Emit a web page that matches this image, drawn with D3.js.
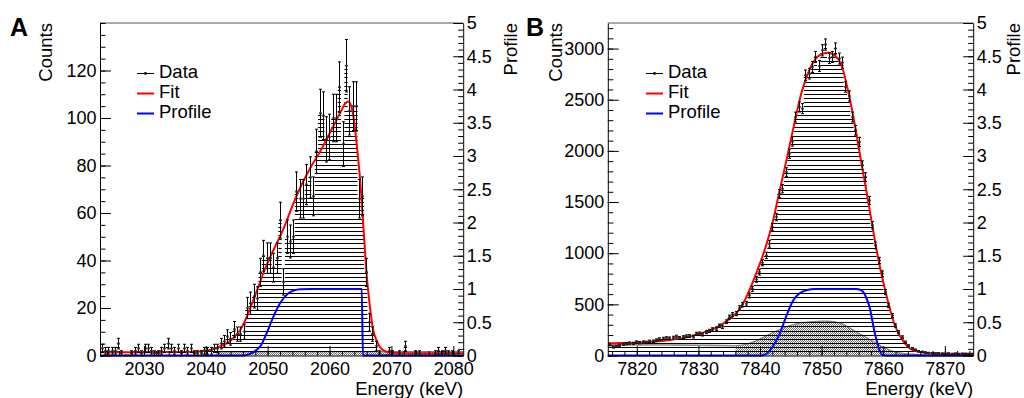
<!DOCTYPE html>
<html><head><meta charset="utf-8">
<script src="https://cdn.jsdelivr.net/npm/d3@7"></script>
<style>
html,body{margin:0;padding:0;background:#fff;}
svg{display:block;}
text{font-family:"Liberation Sans",Arial,Helvetica,sans-serif;fill:#000;}
</style></head><body>
<svg id="c" width="1024" height="398"></svg>
<script>
// ---------------- Panel A data ----------------
const rangeA = [2022.9, 2081.6];
const countsA = [3,2,2,2,2,5,1,0,0,1, 2,3,1,3,3,2,1,1,2,3, 5,3,2,3,1,3,2,3,1,1,
  1,2,2,2,3,3,5,6,8,7, 11,9,9,10,20,22,25,24,35,42, 41,41,37,41,57,31,50,48,50,69,
  66,66,72,75,67,86,102,101,91,92, 100,100,113,89,122,103,105,105,66,67,
  35,14,9,4,1,0,0,2,1,0, 1,0,4,0,0,1,1,0,0,0, 0,1,2,1,2,1,1,0,1,0];
const fitA_E = [2022.9,2030,2036,2039,2040.5,2041.5,2042.5,2043.5,2044.5,2045.5,2046.5,2047.5,2048.5,2049.5,2050.5,2051.5,2052.5,2054,2055.5,2057,2058.5,2060,2061,2061.8,2062.5,2063,2063.5,2064,2064.5,2065,2065.5,2066,2066.5,2067,2067.7,2068.5,2069.5,2071,2075,2081.6];
const fitA_C = [1.4,1.4,1.5,1.7,2.2,3.0,4.0,5.3,7.5,10.5,15.5,22,29,36,42,47.5,53,63,72,79.5,86,93.5,98.5,102.6,106,107,105,98,86,72,53,34,21,11.5,5.6,2.5,1.4,1.1,1.0,1.0];
const profA_E = [2022.9,2046,2047,2048,2048.9,2049.9,2051,2052.1,2053.4,2054.3,2055.3,2057,2065.2,2065.4,2081.6];
const profA_P = [0,0,0.02,0.07,0.15,0.35,0.6,0.8,0.94,0.98,0.995,1,1,0,0];
const bkgA_E = [2041.5,2042.6,2060,2081.6];
const bkgA_C = [0,1.5,1.6,1.6];

// ---------------- Panel B data ----------------
const rangeB = [7815.3, 7874.6];
const countsB = [108,82,90,100,110,115,121,118,131,125, 131,128,138,140,150,160,165,170,168,175,
  185,172,180,188,190,185,212,215,205,228, 240,255,262,290,280,330,375,400,410,465,
  496,506,587,652,743,815,907,978,1092,1255, 1353,1581,1630,1793,1972,2093,2331,2429,2413,2739,
  2755,2820,2918,2830,2983,3039,2909,2918,3000,2902, 2863,2625,2537,2331,2201,2087,1859,1745,1516,1272,
  1076,929,799,620,489,391,293,228,179,130, 95,70,55,42,35,30,25,22,20,22,
  18,16,20,15,18,14,17,16,13,15];
const fitB_E = [7815.3,7818,7821,7824,7827,7829,7831,7833,7835,7836.76,7838,7839.46,7840.8,7842,7843,7844.3,7845.4,7846.7,7848.4,7849.8,7851,7852.2,7853.25,7854.33,7855.41,7856.33,7857.3,7858.22,7859.19,7860.38,7861.08,7861.9,7862.98,7864.06,7865.95,7868.6,7874.6];
const fitB_C = [120,122,128,142,165,192,228,278,355,457,600,815,1040,1290,1560,1910,2220,2560,2840,2940,2960,2930,2837,2576,2250,1924,1598,1272,946,620,457,293,163,81,33,20,16];
const profB_E = [7815.3,7840,7841,7841.6,7842.3,7843.2,7844.3,7845.4,7846.5,7847.5,7849,7855.7,7856.6,7857.2,7857.8,7858.6,7859.4,7859.9,7860.5,7874.6];
const profB_P = [0,0,0.02,0.075,0.17,0.33,0.6,0.83,0.94,0.98,1,1,0.97,0.88,0.72,0.35,0.08,0.01,0,0];
// gray component: flat shoulder line, then filled bump
const bkgLineB_E = [7815.3,7825,7830,7836];
const bkgLineB_C = [105,102,100,96];
const bkgB_E = [7836,7838,7839.5,7842.2,7844.9,7847.6,7850.8,7853,7855.7,7858.4,7860,7862.2,7864,7868,7874.6];
const bkgB_C = [96,112,147,228,293,326,336,316,228,137,81,30,15,5,2];

// ---------------- Tick labels ----------------
const xTicksA = [2030,2040,2050,2060,2070,2080];
const yTicksA = [0,20,40,60,80,100,120];
const xTicksB = [7820,7830,7840,7850,7860,7870];
const yTicksB = [0,500,1000,1500,2000,2500,3000];
const profTicks = [0,0.5,1,1.5,2,2.5,3,3.5,4,4.5,5];
const profLabels = ["0","0.5","1","1.5","2","2.5","3","3.5","4","4.5","5"];
const legendLabels = ["Data","Fit","Profile"];

const FONT = '"Liberation Sans",Arial,Helvetica,sans-serif';
const HATCH = 4.15;
const svg = d3.select('#c');
const defs = svg.append('defs');
const pat = defs.append('pattern').attr('id','dots').attr('patternUnits','userSpaceOnUse')
  .attr('width',2).attr('height',2);
pat.append('rect').attr('x',0).attr('y',0).attr('width',1).attr('height',1).attr('fill','#707070');
pat.append('rect').attr('x',1).attr('y',1).attr('width',1).attr('height',1).attr('fill','#707070');

function zip(a,b){ return a.map((v,i)=>[v,b[i]]); }

function panel(o){
  const g = svg.append('g');
  const x = d3.scaleLinear().domain(o.range).range([o.x0,o.x1]);
  const y = d3.scaleLinear().domain(o.yDom).range([o.y0,o.y1]);
  const yp = d3.scaleLinear().domain([0,5]).range([o.y0,o.y1]);
  const n = o.counts.length, w = (o.range[1]-o.range[0])/n;
  const bins = o.counts.map((c,i)=>({lo:o.range[0]+i*w, mid:o.range[0]+(i+0.5)*w, c}));

  const pid = 'plot'+o.id;
  defs.append('clipPath').attr('id',pid).append('rect')
    .attr('x',o.x0).attr('y',o.y1).attr('width',o.x1-o.x0).attr('height',o.y0-o.y1+1);

  // gray component
  const lineC = d3.line().x(d=>x(d[0])).y(d=>y(d[1])).curve(d3.curveMonotoneX);
  const areaC = d3.area().x(d=>x(d[0])).y0(y(0)).y1(d=>y(d[1])).curve(d3.curveMonotoneX);
  const gg = g.append('g').attr('clip-path',`url(#${pid})`);
  gg.append('path').attr('d', areaC(zip(o.bkgE,o.bkgC)))
    .attr('fill','url(#dots)').attr('stroke','none');
  gg.append('path').attr('d', lineC(zip(o.bkgE,o.bkgC)))
    .attr('fill','none').attr('stroke','#7d7d7d').attr('stroke-width',1.2);
  if (o.bkgLineE) {
    gg.append('path').attr('d', lineC(zip(o.bkgLineE,o.bkgLineC)))
      .attr('fill','none').attr('stroke','#8a8a8a').attr('stroke-width',1.6);
  }

  // hatched histogram
  const step = bins.map(b=>[b.lo,b.c]).concat([[o.range[1], bins[n-1].c]]);
  const area = d3.area().x(d=>x(d[0])).y0(y(0)).y1(d=>y(d[1])).curve(d3.curveStepAfter);
  const hid = 'hist'+o.id;
  defs.append('clipPath').attr('id',hid).append('path').attr('d',area(step));
  const ys = d3.range(1,120).map(k=>o.y0-k*HATCH).filter(v=>v>o.y1);
  g.append('g').attr('clip-path',`url(#${hid})`).selectAll('line').data(ys).join('line')
    .attr('x1',o.x0).attr('x2',o.x1)
    .attr('y1',v=>Math.round(v)+0.5).attr('y2',v=>Math.round(v)+0.5)
    .attr('stroke','#000').attr('stroke-width',1.1);

  // fit and profile
  g.append('path').attr('clip-path',`url(#${pid})`).attr('d',lineC(zip(o.fitE,o.fitC)))
    .attr('fill','none').attr('stroke','#ff0000').attr('stroke-width',2);
  const lineP = d3.line().x(d=>x(d[0])).y(d=>yp(d[1])).curve(d3.curveMonotoneX);
  g.append('path').attr('d',lineP(zip(o.profE,o.profP)))
    .attr('fill','none').attr('stroke','#0000ff').attr('stroke-width',2);

  // data error bars + markers
  const eg = g.append('g').attr('clip-path',`url(#${pid})`).attr('stroke','#000').attr('stroke-width',1);
  bins.filter(b=>b.c>0).forEach(b=>{
    const xm = Math.round(x(b.mid))+0.5, e = Math.sqrt(b.c);
    const ya = y(b.c+e), yb = y(b.c-e);
    eg.append('line').attr('x1',xm).attr('x2',xm).attr('y1',ya).attr('y2',yb);
    eg.append('line').attr('x1',xm-1.5).attr('x2',xm+1.5).attr('y1',ya).attr('y2',ya);
    eg.append('line').attr('x1',xm-1.5).attr('x2',xm+1.5).attr('y1',yb).attr('y2',yb);
  });
  g.append('g').attr('clip-path',`url(#${pid})`).selectAll('circle').data(bins).join('circle')
    .attr('cx',b=>Math.round(x(b.mid))+0.5).attr('cy',b=>y(b.c)).attr('r',1.3).attr('fill','#222');

  // frame top
  g.append('line').attr('x1',o.x0).attr('x2',o.x1).attr('y1',o.y1).attr('y2',o.y1)
    .attr('stroke','#8c8c8c').attr('stroke-width',1.6);

  function style(sel){ sel.attr('font-size',18).attr('font-family',FONT); sel.selectAll('text').attr('fill','#000'); }
  const fmtInt = d3.format('d');
  // left axis
  const minorY = d3.range(o.yDom[0], o.yDom[1]+1e-9, o.yMinor);
  g.append('g').attr('transform',`translate(${o.x0},0)`)
    .call(d3.axisLeft(y).tickValues(minorY).tickSize(-5.5).tickFormat('').tickSizeOuter(0))
    .call(s=>s.select('.domain').remove());
  g.append('g').attr('transform',`translate(${o.x0},0)`)
    .call(d3.axisLeft(y).tickValues(o.yTicks).tickSize(-11).tickPadding(3.5).tickSizeOuter(0).tickFormat(fmtInt))
    .call(style);
  // right axis
  const minorP = d3.range(0, 5.0001, 0.1);
  g.append('g').attr('transform',`translate(${o.x1},0)`)
    .call(d3.axisRight(yp).tickValues(minorP).tickSize(-5).tickFormat('').tickSizeOuter(0))
    .call(s=>s.select('.domain').remove());
  g.append('g').attr('transform',`translate(${o.x1},0)`)
    .call(d3.axisRight(yp).tickValues(profTicks).tickSize(-10).tickPadding(3.5).tickSizeOuter(0)
      .tickFormat((d,i)=>profLabels[i]))
    .call(style);
  // bottom axis
  const minorX = d3.range(Math.ceil(o.range[0]/2)*2, o.range[1], 2);
  g.append('g').attr('transform',`translate(0,${o.y0})`)
    .call(d3.axisBottom(x).tickValues(minorX).tickSize(-4.5).tickFormat('').tickSizeOuter(0))
    .call(s=>s.select('.domain').remove());
  g.append('g').attr('transform',`translate(0,${o.y0})`)
    .call(d3.axisBottom(x).tickValues(o.xTicks).tickSize(-9.5).tickPadding(7).tickSizeOuter(0).tickFormat(fmtInt))
    .call(style);

  // titles
  g.append('text').attr('transform',`translate(${o.countsX},${o.y1}) rotate(-90)`)
    .attr('text-anchor','end').attr('font-size',18.5).text('Counts');
  g.append('text').attr('transform',`translate(${o.profX},${o.y1}) rotate(-90)`)
    .attr('text-anchor','end').attr('font-size',18.5).text('Profile');
  g.append('text').attr('x',o.x1).attr('y',395).attr('text-anchor','end')
    .attr('font-size',18.5).text('Energy (keV)');
  g.append('text').attr('x',o.labelX).attr('y',36).attr('font-size',25).attr('font-weight','bold')
    .text(o.label);

  // legend
  const lg = g.append('g');
  const rows = [78,98,118];
  const lx0 = o.legX, lx1 = o.legX+17;
  lg.append('line').attr('x1',lx0).attr('x2',lx1).attr('y1',rows[0]-4.5).attr('y2',rows[0]-4.5)
    .attr('stroke','#000').attr('stroke-width',1);
  lg.append('circle').attr('cx',(lx0+lx1)/2).attr('cy',rows[0]-4.5).attr('r',1.4).attr('fill','#000');
  lg.append('line').attr('x1',lx0).attr('x2',lx1).attr('y1',rows[1]-4.5).attr('y2',rows[1]-4.5)
    .attr('stroke','#ff0000').attr('stroke-width',2);
  lg.append('line').attr('x1',lx0).attr('x2',lx1).attr('y1',rows[2]-4.5).attr('y2',rows[2]-4.5)
    .attr('stroke','#0000ff').attr('stroke-width',2);
  legendLabels.forEach((t,i)=>{
    lg.append('text').attr('x',lx1+5).attr('y',rows[i]).attr('font-size',18.5).text(t);
  });
}

panel({id:'A', range:rangeA, counts:countsA, yDom:[0,140], yMinor:5,
  x0:100, x1:463.2, y0:355.5, y1:23,
  xTicks:xTicksA, yTicks:yTicksA,
  fitE:fitA_E, fitC:fitA_C, profE:profA_E, profP:profA_P, bkgE:bkgA_E, bkgC:bkgA_C,
  countsX:51.5, profX:516.5, label:'A', labelX:10, legX:137});
panel({id:'B', range:rangeB, counts:countsB, yDom:[0,3250], yMinor:100,
  x0:607.8, x1:973.2, y0:355.5, y1:23,
  xTicks:xTicksB, yTicks:yTicksB,
  fitE:fitB_E, fitC:fitB_C, profE:profB_E, profP:profB_P, bkgE:bkgB_E, bkgC:bkgB_C,
  bkgLineE:bkgLineB_E, bkgLineC:bkgLineB_C,
  countsX:561.5, profX:1019.5, label:'B', labelX:526, legX:646});
</script>
</body></html>
